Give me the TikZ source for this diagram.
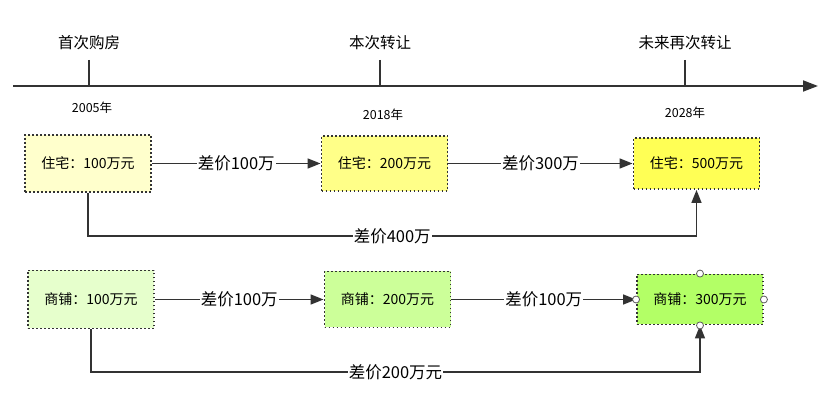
\documentclass[tikz,border=0pt]{standalone}
\usepackage{fontspec}
\setmainfont{Noto Sans CJK SC}
\usepackage{xcolor}
\usetikzlibrary{arrows.meta, positioning}

\definecolor{houseA}{HTML}{FFFFCC}
\definecolor{houseB}{HTML}{FFFF88}
\definecolor{houseC}{HTML}{FFFF55}
\definecolor{shopA}{HTML}{E6FFCC}
\definecolor{shopB}{HTML}{CCFF99}
\definecolor{shopC}{HTML}{B3FF66}
\definecolor{ink}{HTML}{333333}

\begin{document}
\begin{tikzpicture}[x=1pt, y=-1pt,
            box/.style={draw=ink, line width=1.9pt, dash pattern=on 1.9pt off 2.1pt, rectangle, minimum width=126pt, inner sep=0pt, font=\fontsize{14}{16}\selectfont},
            lbl/.style={fill=white, inner sep=1pt, font=\fontsize{16.5}{19}\selectfont},
            title/.style={font=\fontsize{15.5}{18}\selectfont},
            year/.style={font=\fontsize{12.5}{14}\selectfont},
            link/.style={-{Triangle[length=13pt, width=10pt]}, line width=1.6pt, draw=ink},
            axis/.style={line width=1.8pt, draw=ink},
            handle/.style={circle, draw=ink!80, fill=white, inner sep=0pt, minimum size=7pt, line width=0.8pt}]

            \useasboundingbox (0,0) rectangle (823,406);

            % timeline
            \coordinate (axs) at (13,86);
            \coordinate (axe) at (818,86);
            \draw[axis, -{Triangle[length=15pt, width=11pt]}] (axs) -- (axe);

            \coordinate (t1) at (89,60);
            \coordinate (t2) at (380,60);
            \coordinate (t3) at (685,60);
            \draw[axis] (t1) -- (t1 |- axs);
            \draw[axis] (t2) -- (t2 |- axs);
            \draw[axis] (t3) -- (t3 |- axs);

            \node[title] (first) at (89,43) {首次购房};
            \node[title] (now) at (380,43) {本次转让};
            \node[title] (future) at (685,43) {未来再次转让};

            \node[year] (y1) at (92,108) {2005年};
            \node[year] (y2) at (383,115) {2018年};
            \node[year] (y3) at (685,113) {2028年};

            % houses
            \node[box, fill=houseA, minimum height=57pt] (h1) at (88,163.5) {住宅：100万元};
            \node[box, fill=houseB, minimum height=55pt] (h2) at (384.5,163.5) {住宅：200万元};
            \node[box, fill=houseC, minimum height=51pt] (h3) at (696.5,163.5) {住宅：500万元};

            \draw[link] (h1) -- node[lbl] {差价100万} (h2);
            \draw[link] (h2) -- node[lbl] {差价300万} (h3);

            \coordinate (hlow) at (0,236);
            \draw[link] (h1.south) -- (h1.south |- hlow) -- node[lbl] {差价400万} (h3.south |- hlow) -- (h3.south);

            % shops
            \node[box, fill=shopA, minimum height=58pt] (s1) at (91,299.5) {商铺：100万元};
            \node[box, fill=shopB, minimum height=56pt] (s2) at (387.5,299.5) {商铺：200万元};
            \node[box, fill=shopC, minimum height=50pt] (s3) at (700,299.5) {商铺：300万元};

            \draw[link] (s1) -- node[lbl] {差价100万} (s2);
            \draw[link] (s2) -- node[lbl] {差价100万} (s3);

            \coordinate (slow) at (0,372);
            \draw[link] (s1.south) -- (s1.south |- slow) -- node[lbl] {差价200万元} (s3.south |- slow) -- (s3.south);

            \node[handle] (sn) at (s3.north) {};
            \node[handle] (ss) at (s3.south) {};
            \node[handle] (sw) at (s3.west) {};
            \node[handle] (se) at (s3.east) {};
        \end{tikzpicture}
\end{document}
